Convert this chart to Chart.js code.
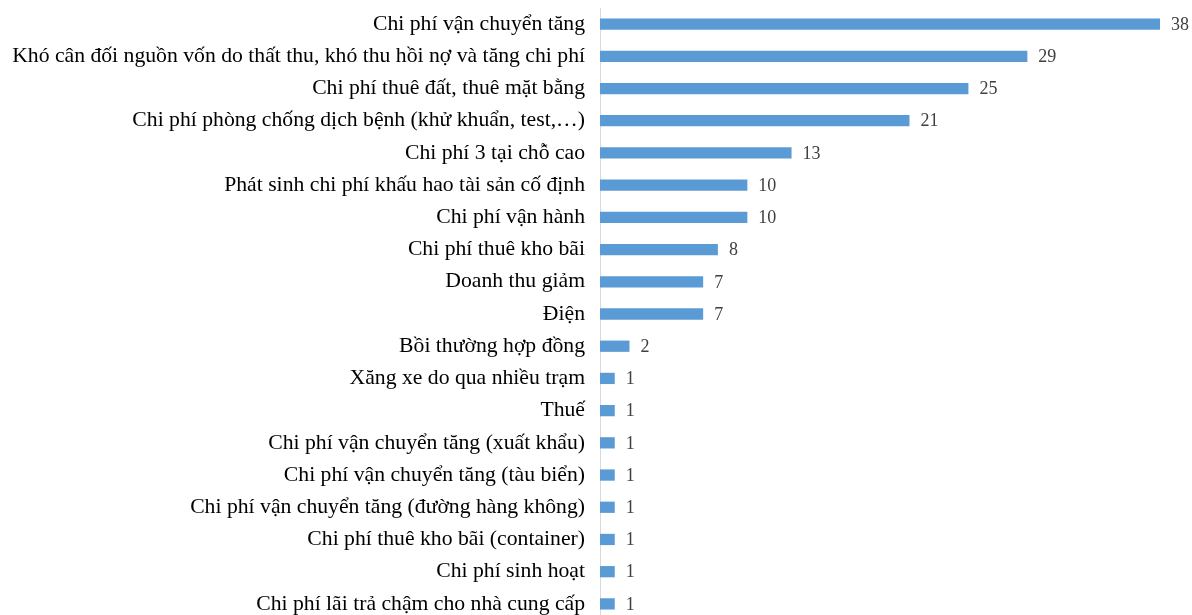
<!DOCTYPE html>
<html>
<head>
<meta charset="utf-8">
<script src="https://cdn.jsdelivr.net/npm/chart.js@4/dist/chart.umd.min.js"></script>
<style>
  html, body { margin: 0; padding: 0; background: #fff; overflow: hidden; }
  #wrap { width: 1192px; height: 620px; position: relative; }
</style>
</head>
<body>
<div id="wrap"><canvas id="chart"></canvas></div>
<script>
const categories = [
  "Chi phí vận chuyển tăng",
  "Khó cân đối nguồn vốn do thất thu, khó thu hồi nợ và tăng chi phí",
  "Chi phí thuê đất, thuê mặt bằng",
  "Chi phí phòng chống dịch bệnh (khử khuẩn, test,…)",
  "Chi phí 3 tại chỗ cao",
  "Phát sinh chi phí khấu hao tài sản cố định",
  "Chi phí vận hành",
  "Chi phí thuê kho bãi",
  "Doanh thu giảm",
  "Điện",
  "Bồi thường hợp đồng",
  "Xăng xe do qua nhiều trạm",
  "Thuế",
  "Chi phí vận chuyển tăng (xuất khẩu)",
  "Chi phí vận chuyển tăng (tàu biển)",
  "Chi phí vận chuyển tăng (đường hàng không)",
  "Chi phí thuê kho bãi (container)",
  "Chi phí sinh hoạt",
  "Chi phí lãi trả chậm cho nhà cung cấp"
];
const counts = [38, 29, 25, 21, 13, 10, 10, 8, 7, 7, 2, 1, 1, 1, 1, 1, 1, 1, 1];

const serif = "'Liberation Serif', 'Times New Roman', serif";

// writes the count just to the right of each bar
const valueLabels = {
  id: "valueLabels",
  afterDatasetsDraw(chart) {
    const ctx = chart.ctx;
    const meta = chart.getDatasetMeta(0);
    ctx.save();
    ctx.font = "18px " + serif;
    ctx.fillStyle = "#404040";
    ctx.textAlign = "left";
    ctx.textBaseline = "middle";
    meta.data.forEach((bar, i) => {
      ctx.fillText(String(counts[i]), bar.x + 11, bar.y + 1);
    });
    ctx.restore();
  }
};

new Chart(document.getElementById("chart"), {
  type: "bar",
  data: {
    labels: categories,
    datasets: [{
      data: counts,
      backgroundColor: "#5b9bd5",
      barPercentage: 0.7,
      categoryPercentage: 0.5
    }]
  },
  options: {
    indexAxis: "y",
    responsive: true,
    maintainAspectRatio: false,
    animation: false,
    layout: { padding: { top: 8, right: 32, bottom: 0, left: 0 } },
    plugins: { legend: { display: false }, tooltip: { enabled: false } },
    scales: {
      x: {
        min: 0,
        max: 38,
        display: false,
        grid: { display: false }
      },
      y: {
        afterFit(scale) {
          scale.width = 600;
          scale.paddingTop = 0;
          scale.paddingBottom = 0;
        },
        grid: { display: false, drawTicks: false },
        border: { display: true, color: "#d9d9d9", width: 1 },
        ticks: {
          color: "#000",
          padding: 15,
          font: { family: serif, size: 21.7 }
        }
      }
    }
  },
  plugins: [valueLabels]
});
</script>
</body>
</html>
